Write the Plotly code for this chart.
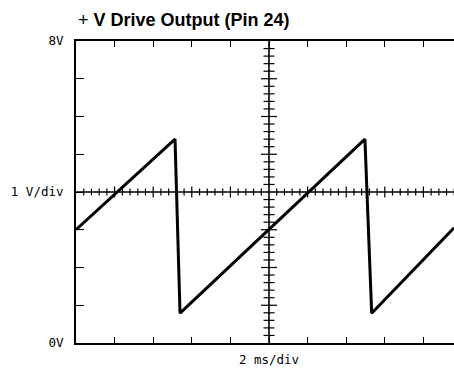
import plotly.graph_objects as go

# Scope trace: +V drive output, time in ms, level in volts
time_ms = [0.0, 5.13, 5.39, 14.97, 15.32, 19.59]
volts = [3.00, 5.40, 0.79, 5.40, 0.79, 3.05]

# Graticule: 2 ms/div horizontally, 1 V/div vertically
x_major_ticks = [0, 2, 4, 6, 8, 10, 12, 14, 16, 18]
x_tick_text = ["", "", "", "", "", "2 ms/div", "", "", "", ""]
y_major_ticks = [0, 1, 2, 3, 4, 5, 6, 7, 8]
y_tick_text = ["0V", "", "", "", "1 V/div", "", "", "", "8V"]

X_DIV = 2.0
Y_DIV = 1.0
X_CENTER = 10.0
Y_CENTER = 4.0
N_SUB = 5

W, H = 454, 368
L, T, B = 76, 41, 25
PX_PER_MS = 19.3
x_max = (W - L) / PX_PER_MS

label_font = dict(family="DejaVu Sans Mono, Liberation Mono, monospace", size=12.5, color="black")

fig = go.Figure()
fig.add_trace(go.Scatter(
    x=time_ms, y=volts, mode="lines",
    line=dict(color="black", width=3),
    hoverinfo="skip", showlegend=False,
))

shapes = []
# centre cross lines
shapes.append(dict(type="line", xref="x", yref="y", x0=X_CENTER, x1=X_CENTER, y0=0, y1=8,
                   line=dict(color="black", width=1.6)))
shapes.append(dict(type="line", xref="x", yref="y", x0=0, x1=20, y0=Y_CENTER, y1=Y_CENTER,
                   line=dict(color="black", width=1.6)))

# sub-division marks along the vertical centre line
for i in range(1, 8 * N_SUB):
    yv = i * Y_DIV / N_SUB
    if abs(yv - Y_CENTER) < 1e-9:
        continue
    half = 8 if i % N_SUB == 0 else 5.5
    shapes.append(dict(type="line", xref="x", yref="y", xsizemode="pixel", xanchor=X_CENTER,
                       x0=-half, x1=half, y0=yv, y1=yv, line=dict(color="black", width=1.2)))

# sub-division marks along the horizontal centre line
for i in range(1, 10 * N_SUB + 1):
    xv = i * X_DIV / N_SUB
    if abs(xv - X_CENTER) < 1e-9:
        continue
    half = 5.5 if i % N_SUB == 0 else 3.5
    shapes.append(dict(type="line", xref="x", yref="y", ysizemode="pixel", yanchor=Y_CENTER,
                       x0=xv, x1=xv, y0=-half, y1=half, line=dict(color="black", width=1.2)))

fig.update_layout(
    width=W, height=H,
    margin=dict(l=L, r=0, t=T, b=B, pad=0),
    paper_bgcolor="white", plot_bgcolor="white",
    shapes=shapes,
    showlegend=False,
    annotations=[dict(
        text="+ <b>V Drive Output (Pin 24)</b>",
        xref="paper", yref="paper", x=0.0, y=(343 - 20) / 302,
        xanchor="left", yanchor="middle", showarrow=False,
        font=dict(family="Liberation Sans, Arial, sans-serif", size=18, color="black"),
    )],
)

fig.update_xaxes(
    range=[0, x_max], showgrid=False, zeroline=False,
    showline=True, linecolor="black", linewidth=2, mirror="ticks",
    ticks="inside", ticklen=6, tickwidth=1, tickcolor="black",
    tickvals=x_major_ticks, ticktext=x_tick_text, tickfont=label_font,
    ticklabelstandoff=4, fixedrange=True,
)
fig.update_yaxes(
    range=[0, 8], showgrid=False, zeroline=False,
    showline=True, linecolor="black", linewidth=2, mirror=False,
    ticks="inside", ticklen=8, tickwidth=1, tickcolor="black",
    tickvals=y_major_ticks, ticktext=y_tick_text, tickfont=label_font,
    ticklabelstandoff=8, fixedrange=True,
)

fig.write_html("out.html", config={"displayModeBar": False})
